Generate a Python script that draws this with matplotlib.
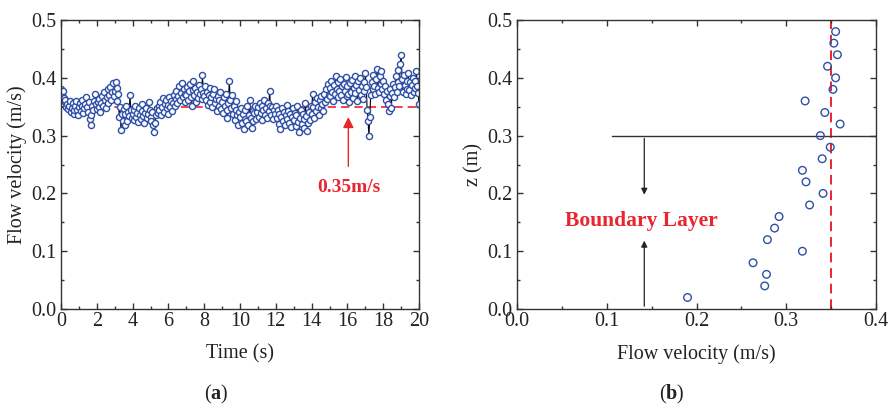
import numpy as np
import matplotlib
matplotlib.use("Agg")
import matplotlib.pyplot as plt
from matplotlib.ticker import MultipleLocator

plt.rcParams['font.family'] = ['Liberation Serif', 'DejaVu Serif']
plt.rcParams['mathtext.fontset'] = 'custom'
plt.rcParams['mathtext.rm'] = 'Liberation Serif'
plt.rcParams['mathtext.bf'] = 'Liberation Serif:bold'

# (a) velocity record at one point, sampled every 0.05 s
dt = 0.05
velocity = [
    0.380, 0.372, 0.377, 0.365, 0.358, 0.362, 0.350, 0.355, 0.346, 0.352, 0.360, 0.341, 0.348, 0.356, 0.338, 0.345, 0.351, 0.360, 0.344, 0.336,
    0.349, 0.357, 0.343, 0.352, 0.362, 0.339, 0.347, 0.355, 0.366, 0.350, 0.341, 0.358, 0.329, 0.318, 0.335, 0.351, 0.344, 0.360, 0.372, 0.355,
    0.346, 0.358, 0.364, 0.350, 0.341, 0.356, 0.368, 0.352, 0.375, 0.361, 0.348, 0.366, 0.380, 0.357, 0.371, 0.384, 0.362, 0.375, 0.391, 0.368,
    0.378, 0.393, 0.360, 0.382, 0.372, 0.333, 0.350, 0.309, 0.338, 0.325, 0.346, 0.318, 0.337, 0.352, 0.326, 0.341, 0.334, 0.370, 0.345, 0.330,
    0.338, 0.327, 0.344, 0.351, 0.332, 0.340, 0.324, 0.347, 0.336, 0.329, 0.343, 0.355, 0.334, 0.321, 0.340, 0.348, 0.330, 0.337, 0.359, 0.345,
    0.333, 0.326, 0.341, 0.318, 0.306, 0.322, 0.335, 0.347, 0.339, 0.352, 0.344, 0.358, 0.336, 0.349, 0.365, 0.341, 0.355, 0.362, 0.347, 0.338,
    0.353, 0.366, 0.349, 0.360, 0.343, 0.356, 0.371, 0.352, 0.364, 0.378, 0.357, 0.368, 0.385, 0.362, 0.374, 0.391, 0.366, 0.380, 0.372, 0.359,
    0.371, 0.384, 0.362, 0.377, 0.389, 0.367, 0.352, 0.379, 0.395, 0.370, 0.382, 0.358, 0.376, 0.365, 0.388, 0.372, 0.381, 0.363, 0.405, 0.374,
    0.369, 0.386, 0.361, 0.375, 0.353, 0.370, 0.382, 0.358, 0.366, 0.349, 0.372, 0.380, 0.357, 0.364, 0.343, 0.369, 0.352, 0.361, 0.375, 0.346,
    0.358, 0.340, 0.366, 0.351, 0.372, 0.345, 0.330, 0.356, 0.395, 0.362, 0.348, 0.371, 0.338, 0.352, 0.327, 0.344, 0.360, 0.335, 0.318, 0.341,
    0.332, 0.347, 0.321, 0.338, 0.312, 0.329, 0.345, 0.326, 0.351, 0.318, 0.336, 0.362, 0.330, 0.314, 0.343, 0.325, 0.339, 0.352, 0.328, 0.341,
    0.349, 0.333, 0.356, 0.340, 0.327, 0.352, 0.344, 0.361, 0.336, 0.348, 0.330, 0.357, 0.342, 0.378, 0.351, 0.335, 0.349, 0.328, 0.345, 0.337,
    0.352, 0.331, 0.344, 0.320, 0.338, 0.312, 0.333, 0.347, 0.326, 0.341, 0.318, 0.336, 0.353, 0.329, 0.343, 0.322, 0.337, 0.315, 0.332, 0.348,
    0.327, 0.340, 0.316, 0.335, 0.351, 0.323, 0.306, 0.331, 0.345, 0.320, 0.338, 0.313, 0.329, 0.356, 0.334, 0.308, 0.322, 0.341, 0.327, 0.352,
    0.338, 0.372, 0.349, 0.330, 0.358, 0.342, 0.365, 0.350, 0.336, 0.361, 0.347, 0.368, 0.355, 0.343, 0.372, 0.358, 0.380, 0.364, 0.389, 0.371,
    0.382, 0.368, 0.395, 0.376, 0.360, 0.388, 0.372, 0.403, 0.381, 0.366, 0.392, 0.378, 0.398, 0.371, 0.385, 0.362, 0.390, 0.377, 0.401, 0.369,
    0.385, 0.372, 0.358, 0.391, 0.376, 0.397, 0.365, 0.382, 0.404, 0.373, 0.388, 0.360, 0.394, 0.379, 0.400, 0.370, 0.386, 0.363, 0.392, 0.378,
    0.409, 0.384, 0.345, 0.325, 0.300, 0.332, 0.371, 0.393, 0.380, 0.405, 0.386, 0.372, 0.398, 0.415, 0.383, 0.376, 0.404, 0.390, 0.411, 0.381,
    0.395, 0.372, 0.386, 0.362, 0.378, 0.355, 0.342, 0.369, 0.381, 0.348, 0.374, 0.390, 0.366, 0.384, 0.403, 0.376, 0.392, 0.414, 0.385, 0.424,
    0.440, 0.398, 0.375, 0.405, 0.387, 0.372, 0.395, 0.381, 0.408, 0.379, 0.392, 0.370, 0.388, 0.400, 0.376, 0.394, 0.383, 0.412, 0.386, 0.374,
    0.355,
]
time = np.arange(len(velocity)) * dt
mean_velocity = 0.35

# (b) vertical profile of time-averaged velocity
profile_v = [0.190, 0.276, 0.278, 0.263, 0.318, 0.279, 0.287, 0.292, 0.326, 0.341,
             0.322, 0.318, 0.340, 0.349, 0.338, 0.360, 0.343, 0.321, 0.352, 0.355,
             0.346, 0.357, 0.353, 0.355]
profile_z = [0.02, 0.04, 0.06, 0.08, 0.10, 0.12, 0.14, 0.16, 0.18, 0.20,
             0.22, 0.24, 0.26, 0.28, 0.30, 0.32, 0.34, 0.36, 0.38, 0.40,
             0.42, 0.44, 0.46, 0.48]
layer_top = 0.30

red = '#e8262f'
blue = '#2f4fa8'
fs = 14.5

fig = plt.figure(figsize=(8.88, 4.08), dpi=100)
ax1 = fig.add_axes([0.0687, 0.2426, 0.4032, 0.7083])
ax2 = fig.add_axes([0.5822, 0.2426, 0.4043, 0.7083])


def style(ax):
    for s in ax.spines.values():
        s.set_color('#333333')
        s.set_linewidth(1.0)
    ax.tick_params(which='both', direction='in', top=True, right=True,
                   colors='#333333', labelcolor='#222222', labelsize=fs, width=1.0)
    ax.tick_params(which='major', length=4.5)
    ax.tick_params(which='minor', length=2.5)
    ax.tick_params(axis='x', pad=2)
    ax.tick_params(axis='y', pad=3)


ax1.plot([0, 20], [mean_velocity, mean_velocity], ls=(0, (5, 3)), color=red, lw=1.2, zorder=1)
ax1.plot(time, velocity, color='black', lw=0.8, marker='o', ms=4.4, mfc='white',
         mec=blue, mew=1.0, zorder=2)
ax1.annotate('', xy=(16.05, 0.337), xytext=(16.05, 0.242),
             arrowprops=dict(arrowstyle='-|>', color=red, lw=1.0, mutation_scale=16))
ax1.text(16.1, 0.21, '0.35m/s', color=red, fontsize=14, fontweight='bold',
         ha='center', va='center')
ax1.set_xlim(0, 20)
ax1.set_ylim(0, 0.5)
ax1.xaxis.set_major_locator(MultipleLocator(2))
ax1.xaxis.set_minor_locator(MultipleLocator(1))
ax1.yaxis.set_major_locator(MultipleLocator(0.1))
ax1.yaxis.set_minor_locator(MultipleLocator(0.05))
ax1.set_xlabel('Time (s)', fontsize=fs, color='#222222', labelpad=10)
ax1.set_ylabel('Flow velocity (m/s)', fontsize=fs, color='#222222', labelpad=3)
style(ax1)

ax2.plot([mean_velocity, mean_velocity], [0, 0.5], ls=(0, (5, 3)), color=red, lw=1.4, zorder=1)
ax2.plot([0.1064, 0.4], [layer_top, layer_top], color='#333333', lw=1.0, zorder=1)
ax2.scatter(profile_v, profile_z, s=30, facecolors='none', edgecolors=blue,
            linewidths=1.0, zorder=3)
ax2.annotate('', xy=(0.1418, 0.193), xytext=(0.1418, layer_top),
             arrowprops=dict(arrowstyle='-|>', color='#222222', lw=0.9, mutation_scale=9))
ax2.annotate('', xy=(0.1418, 0.123), xytext=(0.1418, 0.0),
             arrowprops=dict(arrowstyle='-|>', color='#222222', lw=0.9, mutation_scale=9))
ax2.text(0.139, 0.153, 'Boundary Layer', color=red, fontsize=15.5, fontweight='bold',
         ha='center', va='center')
ax2.set_xlim(0, 0.4)
ax2.set_ylim(0, 0.5)
ax2.xaxis.set_major_locator(MultipleLocator(0.1))
ax2.xaxis.set_minor_locator(MultipleLocator(0.05))
ax2.yaxis.set_major_locator(MultipleLocator(0.1))
ax2.yaxis.set_minor_locator(MultipleLocator(0.05))
ax2.set_xlabel('Flow velocity (m/s)', fontsize=fs, color='#222222', labelpad=10)
ax2.set_ylabel('z (m)', fontsize=fs, color='#222222', labelpad=3)
style(ax2)

fig.text(0.244, 0.034, r'($\mathbf{a}$)', fontsize=fs, ha='center', va='center', color='#222222')
fig.text(0.757, 0.034, r'($\mathbf{b}$)', fontsize=fs, ha='center', va='center', color='#222222')

fig.savefig('out.png', dpi=100)
